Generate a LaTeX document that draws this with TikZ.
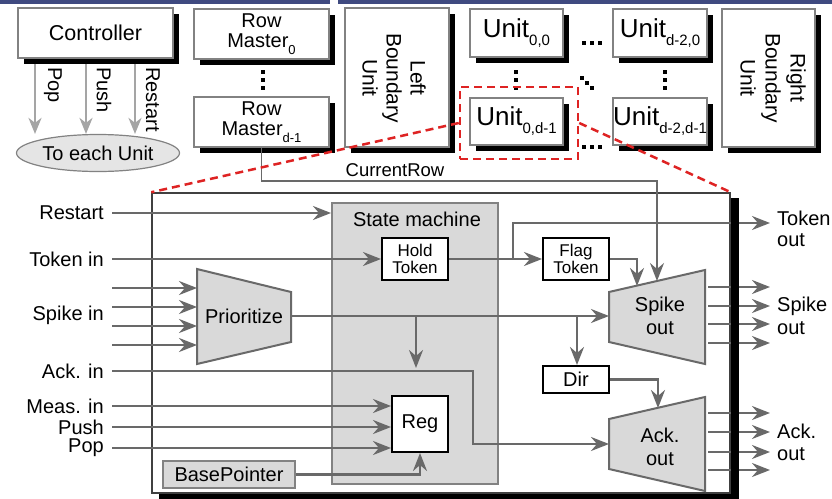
\documentclass[tikz,border=0pt]{standalone}
\usepackage{fontspec}
\setmainfont{Liberation Sans}
\usetikzlibrary{arrows.meta,shapes.geometric,shadows}
\definecolor{band}{RGB}{63,74,128}
\definecolor{wire}{RGB}{105,105,105}
\definecolor{lwire}{RGB}{165,165,165}
\definecolor{blockfill}{RGB}{217,217,217}
\definecolor{rim}{RGB}{130,130,130}
\definecolor{zoomred}{RGB}{222,35,35}
\newcommand{\rsub}[1]{\raisebox{-7pt}{\fontsize{13}{13}\selectfont #1}}
\newcommand{\usub}[1]{\raisebox{-8pt}{\fontsize{15}{15}\selectfont #1}}
\begin{document}
\begin{tikzpicture}[x=1pt,y=-1pt,
  font=\fontsize{20}{22}\selectfont,
  topbox/.style={draw=rim,line width=1.5pt,fill=white,inner sep=0pt,align=center,
    drop shadow={shadow xshift=6pt,shadow yshift=-6pt,fill=black,opacity=1}},
  blkbox/.style={draw=black,line width=2pt,fill=white,inner sep=0pt,align=center},
  graybox/.style={draw=rim,line width=2pt,fill=blockfill,inner sep=0pt},
  mux/.style={draw=wire,line width=2pt,fill=blockfill},
  sig/.style={draw=wire,line width=2.5pt,-{Stealth[length=18pt,width=14pt,inset=6pt]}},
  ctlsig/.style={draw=lwire,line width=2.5pt,-{Stealth[length=16pt,width=13pt,inset=5pt]}},
  zoomline/.style={draw=zoomred,line width=2.5pt,dash pattern=on 8pt off 5pt},
  lbl/.style={inner sep=0pt}]
\useasboundingbox (0,0) rectangle (832,498);
\fill[band] (0,0) rectangle (330,3.5);
\fill[band] (338,0) rectangle (832,3.5);

% controller
\node[topbox,minimum width=155pt,minimum height=50pt,font=\fontsize{21.5}{24}\selectfont] (ctrl) at (95.5,33) {Controller};
\node[ellipse,draw=rim,line width=1.2pt,fill=black!10,inner sep=0pt,minimum width=163pt,minimum height=37pt] (each) at (98,153) {To each Unit};
\foreach \x/\t in {35/Pop,86/Push,135/Restart}{
  \draw[ctlsig,shorten <=5pt] (ctrl.south -| \x,0) -- (each.north -| \x,0);
  \node[lbl,rotate=-90,anchor=west] (ctl-\t) at (\x+18,67) {\t};
}

% array of units
\node[topbox,minimum width=135pt,minimum height=50pt,font=\fontsize{20}{19.5}\selectfont] (rm0) at (261.5,34) {Row\\Master\rsub{0}};
\node[topbox,minimum width=135pt,minimum height=50pt,font=\fontsize{20}{19.5}\selectfont] (rm1) at (261.5,122) {Row\\Master\rsub{d-1}};
\node[topbox,minimum width=104pt,minimum height=139pt] (lbu) at (397,77.5) {};
\node[lbl,rotate=-90,align=center,font=\fontsize{21}{24}\selectfont] (lbu-txt) at (394,78) {Left\\Boundary\\Unit};
\node[topbox,minimum width=93pt,minimum height=48pt,font=\fontsize{26}{26}\selectfont] (u00) at (516.5,33) {Unit\usub{0,0}};
\node[topbox,minimum width=94pt,minimum height=48pt,font=\fontsize{26}{26}\selectfont] (ud0) at (660,33) {Unit\usub{d-2,0}};
\node[topbox,minimum width=93pt,minimum height=47pt,font=\fontsize{26}{26}\selectfont] (u0d) at (516.5,121.5) {Unit\usub{0,d-1}};
\node[topbox,minimum width=94pt,minimum height=47pt,font=\fontsize{26}{26}\selectfont] (udd) at (660,121.5) {Unit\usub{d-2,d-1}};
\node[topbox,minimum width=93pt,minimum height=138pt] (rbu) at (768.5,78) {};
\node[lbl,rotate=-90,align=center,font=\fontsize{21}{25}\selectfont] (rbu-txt) at (773,78) {Right\\Boundary\\Unit};
\foreach \x in {263,516,665} \foreach \y in {72,80,88} \fill (\x-2,\y-2) rectangle ++(4,4);
\foreach \x in {584,592,600} \foreach \y in {43,147} \fill (\x-2,\y-2) rectangle ++(4,4);
\foreach \x/\y in {582/78,587/83,592/88} \fill (\x-2,\y-2) rectangle ++(4,4);
\node[zoomline,minimum width=118pt,minimum height=72pt] (focus) at (519,123) {};
\node[lbl,font=\fontsize{18.5}{20}\selectfont] (currow) at (395,170) {CurrentRow};

% one unit
\node[draw=black!75,line width=1.5pt,fill=white,minimum width=578pt,minimum height=300pt] (unit) at (441,343) {};
\node[graybox,minimum width=166pt,minimum height=281pt] (sm) at (415,343.5) {};
\node[lbl] (sm-txt) at (417,219) {State machine};
\draw[mux] (197,269) -- (291,292) -- (291,342) -- (197,364) -- cycle;
\node[lbl] (prio) at (244,316) {Prioritize};
\draw[mux] (609,292) -- (705,270) -- (705,364) -- (609,342) -- cycle;
\node[lbl,align=center,font=\fontsize{20}{23}\selectfont] (spko) at (660,316) {Spike\\out};
\draw[mux] (609,419) -- (705,397) -- (705,491) -- (609,469) -- cycle;
\node[lbl,align=center,font=\fontsize{20}{23}\selectfont] (acko) at (660,447) {Ack.\\out};
\coordinate (prio-w) at (197,316);
\coordinate (prio-e) at (291,316);
\coordinate (spko-w) at (609,316);
\coordinate (spko-e) at (708,316);
\coordinate (spko-t1) at (637,286);
\coordinate (spko-t2) at (657,281);
\coordinate (acko-w) at (609,444);
\coordinate (acko-e) at (708,441.5);
\coordinate (acko-t) at (658,408);

\node[blkbox,minimum width=66pt,minimum height=42pt,font=\fontsize{17}{17}\selectfont] (hold) at (415,259) {Hold\\Token};
\node[blkbox,minimum width=66pt,minimum height=42pt,font=\fontsize{17}{17}\selectfont] (flag) at (576,259) {Flag\\Token};
\node[blkbox,minimum width=66pt,minimum height=27pt] (dir) at (576,379.5) {Dir};
\node[blkbox,minimum width=56pt,minimum height=56pt] (reg) at (420,424) {Reg};
\node[graybox,minimum width=132pt,minimum height=27pt] (bp) at (229,474.5) {BasePointer};

% inputs
\node[lbl,anchor=east] (rst) at (104,213) {Restart};
\node[lbl,anchor=east] (tokin) at (104,259) {Token in};
\node[lbl,anchor=east] (spkin) at (104,315) {Spike in};
\node[lbl,anchor=east] (ackin) at (104,371) {Ack. in};
\node[lbl,anchor=east] (measin) at (104,406) {Meas. in};
\node[lbl,anchor=east] (pushin) at (104,427) {Push};
\node[lbl,anchor=east] (popin) at (104,448) {Pop};
\coordinate (spk-src) at (112,316);
\coordinate (spk-dst) at (770,316);
\coordinate (ack-dst) at (770,441.5);
\coordinate (br1) at (416,316);
\coordinate (br2) at (577,316);
\coordinate (ackbend) at (473,444);
\coordinate (tokbr) at (513,259);
\coordinate (tokend) at (770,223);

\draw[sig] ([xshift=8pt]rst.east) -- (rst.east -| sm.west);
\draw[sig] ([xshift=8pt]tokin.east) -- (hold.west);
\foreach \d in {-28,-9,10,29} \draw[sig] ([shift={(0,\d)}]spk-src) -- ([shift={(0,\d)}]prio-w);
\draw[sig] ([xshift=8pt]ackin.east) -| (ackbend) -- (acko-w);
\foreach \n in {measin,pushin,popin} \draw[sig] ([xshift=8pt]\n.east) -- (\n.east -| reg.west);
\draw[sig] (bp.east) -| (reg.south);
\draw[sig] (prio-e) -- (spko-w);
\draw[sig,shorten >=3pt] (br1) -- (br1 |- ackin.east);
\draw[sig] (br2) -- (br2 |- dir.north);
\draw[sig] (hold.east) -- (flag.west);
\draw[sig] (tokbr) |- (tokend);
\draw[sig] (flag.east) -| (spko-t1);
\draw[sig] (dir.east) -| (acko-t);
\draw[sig,line width=1.6pt] (rm1.south) -- ++(0,33) -| (spko-t2);

% outputs
\foreach \d in {-29,-10,8,27} \draw[sig] ([shift={(0,\d)}]spko-e) -- ([shift={(0,\d)}]spk-dst);
\foreach \d in {-28.5,-9.5,10.5,28.5} \draw[sig] ([shift={(0,\d)}]acko-e) -- ([shift={(0,\d)}]ack-dst);
\node[lbl,anchor=west,align=left,font=\fontsize{20}{21}\selectfont] (tokout) at (777,229) {Token\\out};
\node[lbl,anchor=west,align=left,font=\fontsize{20}{23}\selectfont] (spkout) at (777,316) {Spike\\out};
\node[lbl,anchor=west,align=left,font=\fontsize{20}{22}\selectfont] (ackout) at (777,442) {Ack.\\out};
\fill ([shift={(0,6)}]unit.north east) rectangle ([shift={(8,8)}]unit.south east);
\fill ([shift={(8,0)}]unit.south west) rectangle ([shift={(8,8)}]unit.south east);

\draw[zoomline] (focus.west) -- (unit.north west);
\draw[zoomline] (focus.east) -- (unit.north east);
\end{tikzpicture}
\end{document}
